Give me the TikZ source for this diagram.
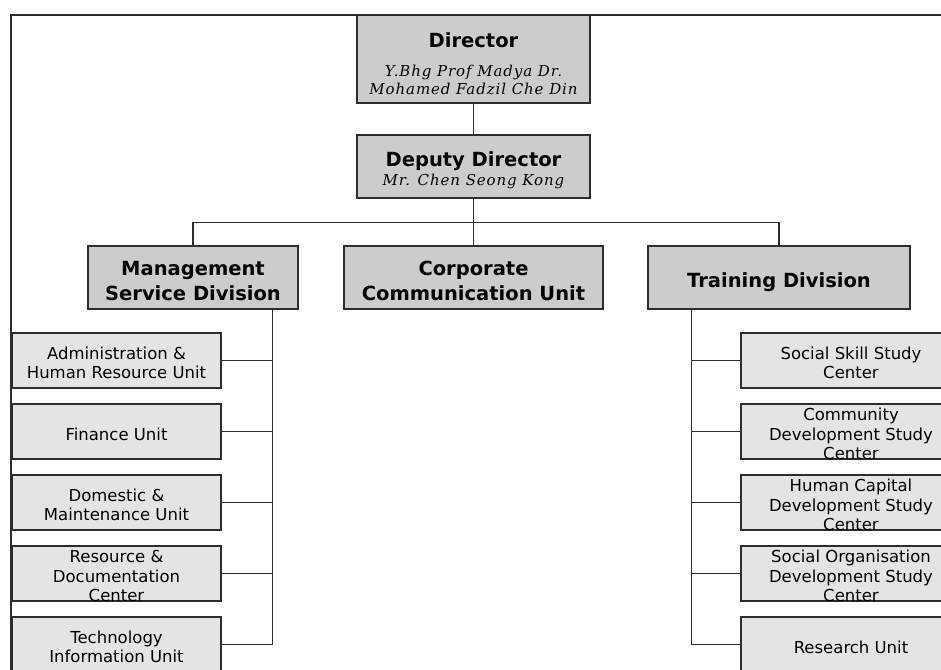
\documentclass[tikz,border=0pt]{standalone}
\usepackage{fontspec}
\setmainfont{DejaVu Sans}
\newfontfamily\namefont{DejaVu Serif}[LetterSpace=6]
\usetikzlibrary{calc}

\definecolor{linegray}{RGB}{45,45,45}
\definecolor{headfill}{RGB}{204,204,204}
\definecolor{unitfill}{RGB}{228,228,228}

\tikzset{
  headbox/.style={draw=linegray, line width=1.4pt, fill=headfill, inner sep=0pt},
  headtext/.style={anchor=base, inner sep=0pt,
    font=\fontsize{19.5}{25}\selectfont\bfseries},
  nametext/.style={anchor=base, inner sep=0pt,
    font=\namefont\itshape\fontsize{15}{19}\selectfont},
  unitbox/.style={draw=linegray, line width=1.2pt, fill=unitfill,
    inner sep=0pt, minimum width=209pt, minimum height=55pt},
  unittext/.style={align=center, inner sep=0pt,
    font=\fontsize{16.5}{19.5}\selectfont},
  link/.style={draw=linegray, line width=1.2pt}
}

\begin{document}
\begin{tikzpicture}[x=1pt, y=-1pt]
  \useasboundingbox (0,0) rectangle (941,669);
  \clip (0,0) rectangle (941,669);
  \fill[white] (0,0) rectangle (941,669);

  % outer frame (left and top edges)
  \draw[link, line width=1.6pt] (11,680) -- (11,15) -- (950,15);

  % top management
  \node[headbox, minimum width=233pt, minimum height=88pt] (dir) at (473.5,59) {};
  \node[headtext] (dir1) at (473.5,48) {Director};
  \node[nametext] (dir2) at (473.5,76) {Y.Bhg Prof Madya Dr.};
  \node[nametext] (dir3) at (473.5,94) {Mohamed Fadzil Che Din};

  \node[headbox, minimum width=233pt, minimum height=63pt] (dep) at (473.5,166.5) {};
  \node[headtext] (dep1) at (473.5,166) {Deputy Director};
  \node[nametext] (dep2) at (473.5,185) {Mr. Chen Seong Kong};

  % divisions
  \node[headbox, minimum width=210pt, minimum height=63pt] (msd) at (193,277.5) {};
  \node[headtext] (msd1) at (193,275) {Management};
  \node[headtext] (msd2) at (193,300) {Service Division};

  \node[headbox, minimum width=259pt, minimum height=63pt] (ccu) at (473.5,277.5) {};
  \node[headtext] (ccu1) at (473.5,275) {Corporate};
  \node[headtext] (ccu2) at (473.5,300) {Communication Unit};

  \node[headbox, minimum width=262pt, minimum height=63pt] (trn) at (779,277.5) {};
  \node[headtext] (trn1) at (779,287) {Training Division};

  % management service units
  \node[unitbox] (m1) at (116.5,360.5) {};
  \node[unitbox] (m2) at (116.5,431.5) {};
  \node[unitbox] (m3) at (116.5,502.5) {};
  \node[unitbox] (m4) at (116.5,573.5) {};
  \node[unitbox] (m5) at (116.5,644.5) {};
  \node[unittext] (m1t) at ([yshift=-2.5pt]m1.center) {Administration \&\\Human Resource Unit};
  \node[unittext] (m2t) at ([yshift=-2.5pt]m2.center) {Finance Unit};
  \node[unittext] (m3t) at ([yshift=-2.5pt]m3.center) {Domestic \&\\Maintenance Unit};
  \node[unittext] (m4t) at ([yshift=-2.5pt]m4.center) {Resource \&\\Documentation\\Center};
  \node[unittext] (m5t) at ([yshift=-2.5pt]m5.center) {Technology\\Information Unit};

  % training units
  \node[unitbox, minimum width=220pt] (t1) at (851,360.5) {};
  \node[unitbox, minimum width=220pt] (t2) at (851,431.5) {};
  \node[unitbox, minimum width=220pt] (t3) at (851,502.5) {};
  \node[unitbox, minimum width=220pt] (t4) at (851,573.5) {};
  \node[unitbox, minimum width=220pt] (t5) at (851,644.5) {};
  \node[unittext] (t1t) at ([yshift=-2.5pt]t1.center) {Social Skill Study\\Center};
  \node[unittext] (t2t) at ([yshift=-2.5pt]t2.center) {Community\\Development Study\\Center};
  \node[unittext] (t3t) at ([yshift=-2.5pt]t3.center) {Human Capital\\Development Study\\Center};
  \node[unittext] (t4t) at ([yshift=-2.5pt]t4.center) {Social Organisation\\Development Study\\Center};
  \node[unittext] (t5t) at ([yshift=-2.5pt]t5.center) {Research Unit};

  % hierarchy lines
  \coordinate (bus) at (473.5,222.5);
  \draw[link] (dir.south) -- (dep.north);
  \draw[link] (dep.south) -- (ccu.north);
  \draw[link] (msd.north) |- (bus) -| (trn.north);

  \coordinate (mspine) at (272.5,309);
  \coordinate (tspine) at (691.5,309);
  \draw[link] (mspine) |- (m5.east);
  \draw[link] (tspine) |- (t5.west);
  \foreach \u in {m1,m2,m3,m4}
    \draw[link] (\u.east) -- (\u.east -| mspine);
  \foreach \u in {t1,t2,t3,t4}
    \draw[link] (\u.west) -- (\u.west -| tspine);
\end{tikzpicture}
\end{document}
